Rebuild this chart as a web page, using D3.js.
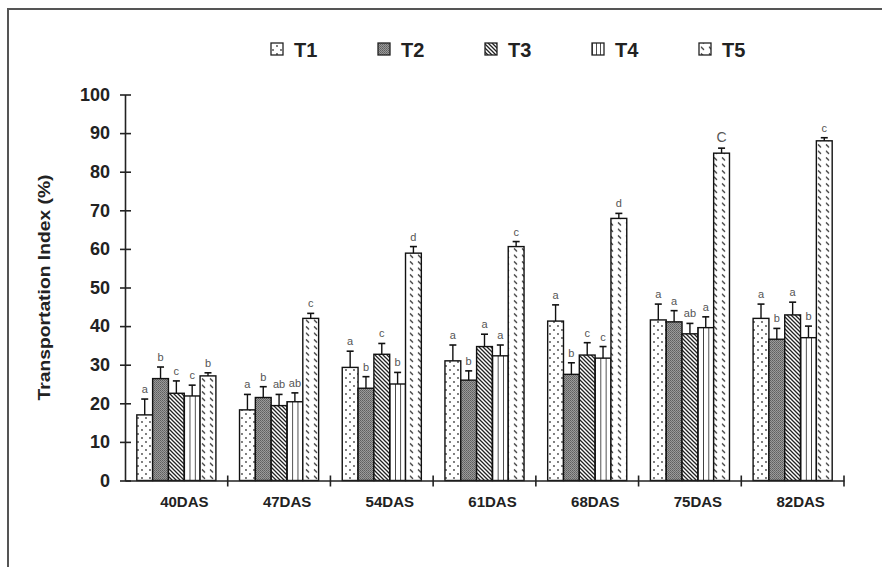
<!DOCTYPE html>
<html>
<head>
<meta charset="utf-8">
<script src="https://cdn.jsdelivr.net/npm/d3@7"></script>
<style>
  html, body { margin: 0; padding: 0; background: #fff; }
  svg { display: block; }
  text { font-family: "Liberation Sans", Arial, sans-serif; }
</style>
</head>
<body>
<svg id="chart" width="882" height="567"></svg>
<script>
// Sampling days and treatments
const categories = ["40DAS", "47DAS", "54DAS", "61DAS", "68DAS", "75DAS", "82DAS"];
const treatments = ["T1", "T2", "T3", "T4", "T5"];

// Mean transportation index (%) per treatment, one value per sampling day
const T1 = [17.0, 18.3, 29.3, 31.0, 41.3, 41.6, 42.0];
const T2 = [26.4, 21.5, 23.9, 26.0, 27.5, 41.1, 36.6];
const T3 = [22.6, 19.4, 32.7, 34.7, 32.5, 38.0, 42.9];
const T4 = [21.9, 20.4, 25.0, 32.3, 31.7, 39.6, 37.0];
const T5 = [27.1, 42.0, 58.9, 60.6, 67.9, 84.8, 88.0];

// Standard errors (upper whisker length)
const T1_se = [4.1, 4.0, 4.2, 4.1, 4.2, 4.1, 3.7];
const T2_se = [3.0, 2.8, 3.0, 2.4, 3.0, 2.9, 2.8];
const T3_se = [3.2, 2.9, 2.8, 3.2, 3.2, 2.7, 3.3];
const T4_se = [2.8, 2.3, 3.0, 2.8, 3.0, 2.8, 3.0];
const T5_se = [0.8, 1.3, 1.7, 1.3, 1.3, 1.3, 0.8];

// Significance letters
const T1_sig = ["a", "a", "a", "a", "a", "a", "a"];
const T2_sig = ["b", "b", "b", "b", "b", "a", "b"];
const T3_sig = ["c", "ab", "c", "a", "c", "ab", "a"];
const T4_sig = ["c", "ab", "b", "a", "c", "a", "b"];
const T5_sig = ["b", "c", "d", "c", "d", "C", "c"];

// Y axis ticks
const yTicks = [0, 10, 20, 30, 40, 50, 60, 70, 80, 90, 100];
const yLabel = "Transportation Index (%)";

const means = [T1, T2, T3, T4, T5];
const ses = [T1_se, T2_se, T3_se, T4_se, T5_se];
const sigs = [T1_sig, T2_sig, T3_sig, T4_sig, T5_sig];

const rows = [];
categories.forEach((c, ci) => {
  treatments.forEach((t, ti) => {
    rows.push({ cat: c, trt: t, ti, mean: means[ti][ci], se: ses[ti][ci], sig: sigs[ti][ci] });
  });
});

const svg = d3.select("#chart");

// ---- fill patterns -------------------------------------------------------
const defs = svg.append("defs");

// T1: sparse dots on white
const p1 = defs.append("pattern").attr("id", "pat-T1").attr("patternUnits", "userSpaceOnUse")
  .attr("width", 8).attr("height", 8);
p1.append("rect").attr("width", 8).attr("height", 8).attr("fill", "#fff");
p1.append("circle").attr("cx", 2).attr("cy", 2).attr("r", 0.9).attr("fill", "#444");
p1.append("circle").attr("cx", 6).attr("cy", 6).attr("r", 0.9).attr("fill", "#444");

// T2: fine grey stipple
const p2 = defs.append("pattern").attr("id", "pat-T2").attr("patternUnits", "userSpaceOnUse")
  .attr("width", 2).attr("height", 2);
p2.append("rect").attr("width", 2).attr("height", 2).attr("fill", "#9a9a9a");
p2.append("rect").attr("width", 1).attr("height", 1).attr("fill", "#5e5e5e");
p2.append("rect").attr("x", 1).attr("y", 1).attr("width", 1).attr("height", 1).attr("fill", "#6e6e6e");

// T3: dense back-diagonal hatching
const p3 = defs.append("pattern").attr("id", "pat-T3").attr("patternUnits", "userSpaceOnUse")
  .attr("width", 4).attr("height", 4);
p3.append("rect").attr("width", 4).attr("height", 4).attr("fill", "#fff");
p3.append("path").attr("d", "M-1,-1 L5,5 M-1,3 L1,5 M3,-1 L5,1")
  .attr("stroke", "#222").attr("stroke-width", 1.3);

// T4: vertical stripes, thirds of the bar width
const p4 = defs.append("pattern").attr("id", "pat-T4").attr("patternUnits", "objectBoundingBox")
  .attr("width", 1 / 3).attr("height", 1);
p4.append("rect").attr("width", 40).attr("height", 1000).attr("fill", "#fff");
p4.append("line").attr("x1", 0).attr("x2", 0).attr("y1", 0).attr("y2", 1000)
  .attr("stroke", "#222").attr("stroke-width", 1.6);

// T5: rows of short diagonal dashes
const p5 = defs.append("pattern").attr("id", "pat-T5").attr("patternUnits", "userSpaceOnUse")
  .attr("width", 8).attr("height", 6.5);
p5.append("rect").attr("width", 8).attr("height", 6.5).attr("fill", "#fff");
p5.append("path").attr("d", "M2,1.5 L5,4.5")
  .attr("stroke", "#333").attr("stroke-width", 1.3);

// ---- frame ---------------------------------------------------------------
svg.append("path").attr("d", "M8,567 L8,9 L882,9")
  .attr("fill", "none").attr("stroke", "#555").attr("stroke-width", 2);

// ---- scales ----------------------------------------------------------------
const x0 = d3.scaleBand().domain(categories).range([125, 844]).paddingInner(0.23).paddingOuter(0.115);
const x1 = d3.scaleBand().domain(treatments).range([0, x0.bandwidth()]).padding(0);
const y = d3.scaleLinear().domain([0, 100]).range([480.5, 94.5]);

// ---- bars ------------------------------------------------------------------
const g = svg.append("g");
g.selectAll("rect.bar").data(rows).join("rect")
  .attr("class", "bar")
  .attr("x", d => x0(d.cat) + x1(d.trt))
  .attr("y", d => y(d.mean))
  .attr("width", x1.bandwidth())
  .attr("height", d => y(0) - y(d.mean))
  .attr("fill", d => `url(#pat-${d.trt})`)
  .attr("stroke", "#111").attr("stroke-width", 1.4);

// error whiskers (upper only)
const eb = g.selectAll("g.err").data(rows).join("g").attr("class", "err")
  .attr("transform", d => `translate(${x0(d.cat) + x1(d.trt) + x1.bandwidth() / 2},0)`);
eb.append("line").attr("x1", 0).attr("x2", 0)
  .attr("y1", d => y(d.mean)).attr("y2", d => y(d.mean + d.se))
  .attr("stroke", "#111").attr("stroke-width", 1.4);
eb.append("line").attr("x1", -3.5).attr("x2", 3.5)
  .attr("y1", d => y(d.mean + d.se)).attr("y2", d => y(d.mean + d.se))
  .attr("stroke", "#111").attr("stroke-width", 1.6);

// significance letters
eb.append("text")
  .attr("x", 0).attr("y", d => y(d.mean + d.se) - 6)
  .attr("text-anchor", "middle")
  .attr("font-size", d => d.sig === "C" ? 14 : 11)
  .attr("fill", "#555")
  .text(d => d.sig);

// ---- axes ------------------------------------------------------------------
const yAxis = d3.axisLeft(y).tickValues(yTicks).tickSize(0).tickPadding(15);
const ya = svg.append("g").attr("transform", "translate(125,0)").call(yAxis);
ya.select(".domain").attr("stroke", "#222").attr("stroke-width", 1.6);
ya.selectAll(".tick text").attr("font-size", 18).attr("font-weight", "bold").attr("fill", "#222")
  .attr("font-family", "Liberation Sans, Arial, sans-serif");
ya.selectAll(".tick").append("line").attr("x1", -5).attr("x2", 6)
  .attr("stroke", "#222").attr("stroke-width", 1.6);

const xa = svg.append("g").attr("transform", `translate(0,${y(0)})`)
  .call(d3.axisBottom(x0).tickSize(0).tickPadding(16));
xa.select(".domain").attr("stroke", "#222").attr("stroke-width", 1.6);
xa.selectAll(".tick text").attr("font-size", 15).attr("font-weight", "bold").attr("fill", "#222")
  .attr("dx", 8)
  .attr("font-family", "Liberation Sans, Arial, sans-serif");

// separators between day groups, crossing the x axis
const bounds = categories.map(c => x0(c) - x0.step() * x0.paddingInner() / 2)
  .concat([x0(categories[categories.length - 1]) + x0.bandwidth() + x0.step() * x0.paddingInner() / 2]);
svg.append("g").selectAll("line").data(bounds.slice(1)).join("line")
  .attr("x1", d => d).attr("x2", d => d)
  .attr("y1", y(0) - 5).attr("y2", y(0) + 6)
  .attr("stroke", "#222").attr("stroke-width", 1.6);

// y-axis title
svg.append("text")
  .attr("transform", `translate(50,${(y(0) + y(100)) / 2}) rotate(-90)`)
  .attr("text-anchor", "middle")
  .attr("font-size", 16).attr("font-weight", "bold").attr("fill", "#222")
  .attr("textLength", 226).attr("lengthAdjust", "spacingAndGlyphs")
  .text(yLabel);

// ---- legend ----------------------------------------------------------------
const legend = svg.append("g").selectAll("g").data(treatments).join("g")
  .attr("transform", (d, i) => `translate(${271 + i * 107},0)`);
legend.append("rect").attr("x", 0).attr("y", 43).attr("width", 12).attr("height", 12)
  .attr("fill", d => `url(#pat-${d})`).attr("stroke", "#222").attr("stroke-width", 1.3);
legend.append("text").attr("x", 23).attr("y", 57)
  .attr("font-size", 20).attr("font-weight", "bold").attr("fill", "#222")
  .text(d => d);
</script>
</body>
</html>
